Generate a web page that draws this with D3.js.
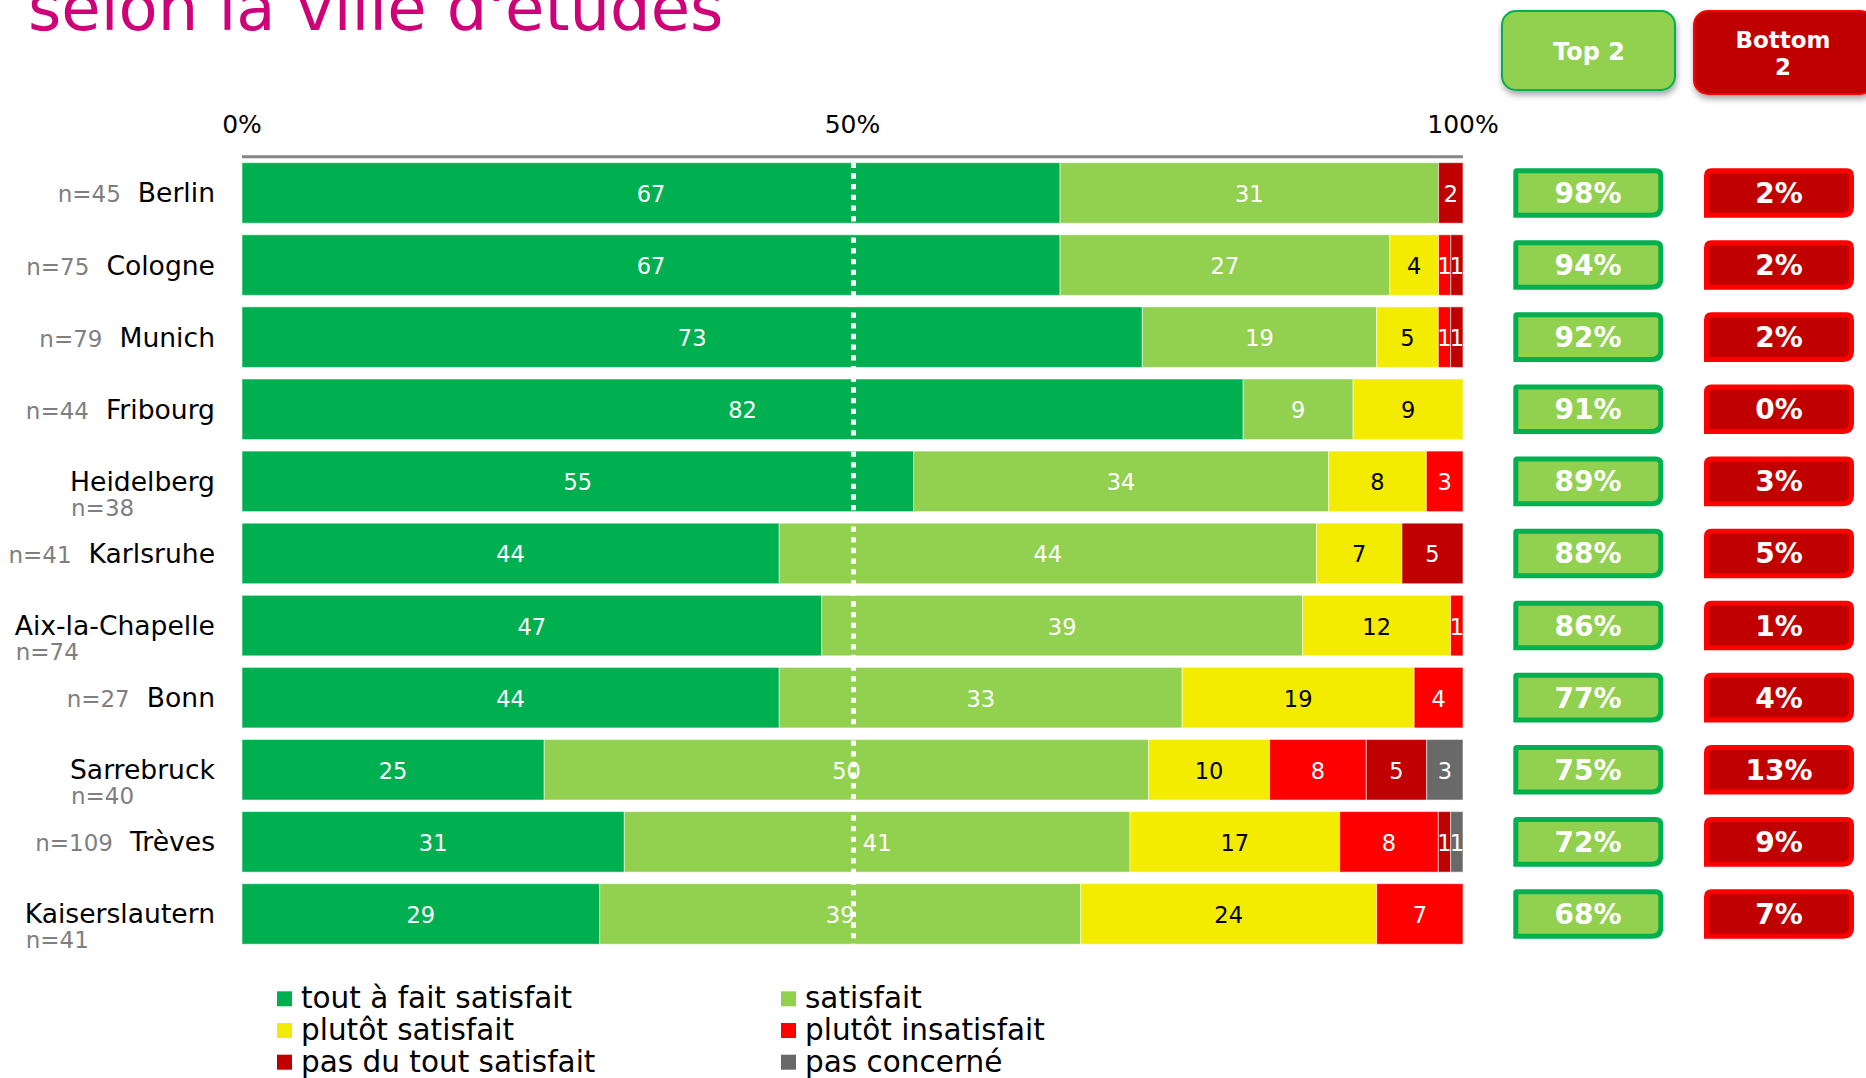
<!DOCTYPE html>
<html>
<head>
<meta charset="utf-8">
<script src="https://cdn.jsdelivr.net/npm/d3@7"></script>
<style>
body { margin: 0; background: #fff; }
svg { display: block; font-family: "DejaVu Sans", Verdana, sans-serif; }
</style>
</head>
<body>
<svg id="chart"></svg>
<script>
var width = 1866, height = 1078;

var cities = ["Berlin", "Cologne", "Munich", "Fribourg", "Heidelberg", "Karlsruhe",
  "Aix-la-Chapelle", "Bonn", "Sarrebruck", "Trèves", "Kaiserslautern"];
var sampleSizes = ["n=45", "n=75", "n=79", "n=44", "n=38", "n=41", "n=74", "n=27", "n=40", "n=109", "n=41"];
var nOnSecondLine = [false, false, false, false, true, false, true, false, true, false, true];

var toutAFait   = [67, 67, 73, 82, 55, 44, 47, 44, 25, 31, 29];
var satisfait   = [31, 27, 19,  9, 34, 44, 39, 33, 50, 41, 39];
var plutotSat   = [ 0,  4,  5,  9,  8,  7, 12, 19, 10, 17, 24];
var plutotInsat = [ 0,  1,  1,  0,  3,  0,  1,  4,  8,  8,  7];
var pasDuTout   = [ 2,  1,  1,  0,  0,  5,  0,  0,  5,  1,  0];
var pasConcerne = [ 0,  0,  0,  0,  0,  0,  0,  0,  3,  1,  0];

var top2    = [98, 94, 92, 91, 89, 88, 86, 77, 75, 72, 68];
var bottom2 = [ 2,  2,  2,  0,  3,  5,  1,  4, 13,  9,  7];

var seriesNames = ["tout à fait satisfait", "satisfait", "plutôt satisfait",
  "plutôt insatisfait", "pas du tout satisfait", "pas concerné"];
var seriesColors = ["#00b050", "#92d050", "#f4ec00", "#ff0000", "#c00000", "#696969"];
var labelColors = ["#fff", "#fff", "#000", "#fff", "#fff", "#fff"];
var tickValues = [0, 0.5, 1];

var svg = d3.select("#chart").attr("width", width).attr("height", height);

// drop shadow for the header boxes
svg.append("defs").append("filter")
    .attr("id", "shadow")
    .attr("x", "-20%").attr("y", "-20%").attr("width", "140%").attr("height", "160%")
  .append("feDropShadow")
    .attr("dx", 1).attr("dy", 4).attr("stdDeviation", 3)
    .attr("flood-color", "#000").attr("flood-opacity", 0.35);

// title (cut by the top edge as in the source slide)
svg.append("text")
    .attr("x", 28).attr("y", 30)
    .attr("font-size", 64)
    .attr("fill", "#cf0078")
    .text("selon la ville d'études");

var x = d3.scaleLinear().domain([0, 1]).range([242, 1463]);

var y = d3.scaleBand()
    .domain(cities)
    .range([156.9, 950])
    .paddingInner(0.16)
    .paddingOuter(0.08);

// table rows for the stack
var rows = cities.map(function (c, i) {
  return {
    city: c,
    s0: toutAFait[i], s1: satisfait[i], s2: plutotSat[i],
    s3: plutotInsat[i], s4: pasDuTout[i], s5: pasConcerne[i]
  };
});
var keys = ["s0", "s1", "s2", "s3", "s4", "s5"];
var stacked = d3.stack().keys(keys).offset(d3.stackOffsetExpand)(rows);

// top axis line and tick labels
svg.append("line")
    .attr("x1", x(0)).attr("x2", x(1))
    .attr("y1", 156.7).attr("y2", 156.7)
    .attr("stroke", "#868686")
    .attr("stroke-width", 3);

svg.selectAll(".tick-label")
    .data(tickValues)
  .enter().append("text")
    .attr("class", "tick-label")
    .attr("x", function (d) { return x(d); })
    .attr("y", 133)
    .attr("text-anchor", "middle")
    .attr("font-size", 25)
    .attr("fill", "#000")
    .text(d3.format(".0%"));

// bars
var layers = svg.selectAll(".layer")
    .data(stacked)
  .enter().append("g")
    .attr("class", "layer")
    .attr("fill", function (d, i) { return seriesColors[i]; });

layers.selectAll("rect")
    .data(function (d) { return d; })
  .enter().append("rect")
    .attr("x", function (d) { return x(d[0]); })
    .attr("y", function (d) { return y(d.data.city); })
    .attr("width", function (d) { return Math.max(0, x(d[1]) - x(d[0])); })
    .attr("height", y.bandwidth())
    .attr("stroke", "rgba(255,255,255,0.55)")
    .attr("stroke-width", 1);

layers.selectAll("text")
    .data(function (d, i) {
      return d.map(function (p) { return { p: p, k: i }; })
        .filter(function (o) { return o.p.data[keys[o.k]] > 0; });
    })
  .enter().append("text")
    .attr("x", function (o) { return (x(o.p[0]) + x(o.p[1])) / 2; })
    .attr("y", function (o) { return y(o.p.data.city) + y.bandwidth() / 2 + 9; })
    .attr("text-anchor", "middle")
    .attr("font-size", 22.5)
    .attr("fill", function (o) { return labelColors[o.k]; })
    .text(function (o) { return o.p.data[keys[o.k]]; });

// dotted 50% line over the bars
svg.append("line")
    .attr("x1", x(0.5) + 1).attr("x2", x(0.5) + 1)
    .attr("y1", y(cities[0]))
    .attr("y2", y(cities[cities.length - 1]) + y.bandwidth())
    .attr("stroke", "#fff")
    .attr("stroke-width", 5)
    .attr("stroke-dasharray", "5.3,5.4");

// category labels with sample sizes
var catLabels = svg.selectAll(".cat")
    .data(cities)
  .enter().append("g")
    .attr("class", "cat");

catLabels.each(function (c, i) {
  var g = d3.select(this);
  var cy = y(c) + y.bandwidth() / 2;
  var name = g.append("text")
      .attr("x", 215)
      .attr("y", cy + 9.5)
      .attr("text-anchor", "end")
      .attr("font-size", 26.6)
      .attr("fill", "#000")
      .text(c);
  var w = name.node().getComputedTextLength();
  var n = g.append("text")
      .attr("font-size", 23)
      .attr("fill", "#7f7f7f")
      .text(sampleSizes[i]);
  if (nOnSecondLine[i]) {
    n.attr("x", 215 - w + 1).attr("y", cy + 34.5).attr("text-anchor", "start");
  } else {
    n.attr("x", 215 - w - 17).attr("y", cy + 9.5).attr("text-anchor", "end");
  }
});

// badge shape: small radius on the left, larger on the right
function badgePath(x0, y0, w, h, rtl, rtr, rbr, rbl) {
  var p = d3.path();
  p.moveTo(x0 + rtl, y0);
  p.lineTo(x0 + w - rtr, y0);
  p.quadraticCurveTo(x0 + w, y0, x0 + w, y0 + rtr);
  p.lineTo(x0 + w, y0 + h - rbr);
  p.quadraticCurveTo(x0 + w, y0 + h, x0 + w - rbr, y0 + h);
  p.lineTo(x0 + rbl, y0 + h);
  p.quadraticCurveTo(x0, y0 + h, x0, y0 + h - rbl);
  p.lineTo(x0, y0 + rtl);
  p.quadraticCurveTo(x0, y0, x0 + rtl, y0);
  p.closePath();
  return p.toString();
}

// header boxes
var head = svg.append("g");
head.append("rect")
    .attr("x", 1502).attr("y", 11).attr("width", 173).attr("height", 79)
    .attr("rx", 14)
    .attr("fill", "#92d050").attr("stroke", "#00b050").attr("stroke-width", 2)
    .attr("filter", "url(#shadow)");
head.append("text")
    .attr("x", 1589).attr("y", 60)
    .attr("text-anchor", "middle")
    .attr("font-size", 24).attr("font-weight", "bold").attr("fill", "#fff")
    .text("Top 2");
head.append("rect")
    .attr("x", 1694).attr("y", 11).attr("width", 180).attr("height", 83)
    .attr("rx", 14)
    .attr("fill", "#c00000").attr("stroke", "#ff0000").attr("stroke-width", 2)
    .attr("filter", "url(#shadow)");
head.append("text")
    .attr("x", 1783).attr("y", 48)
    .attr("text-anchor", "middle")
    .attr("font-size", 23).attr("font-weight", "bold").attr("fill", "#fff")
    .text("Bottom");
head.append("text")
    .attr("x", 1783).attr("y", 75)
    .attr("text-anchor", "middle")
    .attr("font-size", 23).attr("font-weight", "bold").attr("fill", "#fff")
    .text("2");

// Top 2 / Bottom 2 badges per row
var badges = svg.selectAll(".badge")
    .data(cities)
  .enter().append("g")
    .attr("class", "badge")
    .attr("transform", function (c) { return "translate(0," + (y(c) + y.bandwidth() / 2) + ")"; });

badges.append("path")
    .attr("d", badgePath(1515.8, -22.3, 145, 44.6, 1, 5, 9, 0))
    .attr("fill", "#92d050").attr("stroke", "#00b050").attr("stroke-width", 5);
badges.append("text")
    .attr("x", 1588).attr("y", 10)
    .attr("text-anchor", "middle")
    .attr("font-size", 28).attr("font-weight", "bold").attr("fill", "#fff")
    .text(function (c, i) { return top2[i] + "%"; });

badges.append("path")
    .attr("d", badgePath(1706.5, -22.3, 145, 44.6, 5, 5, 9, 0))
    .attr("fill", "#c00000").attr("stroke", "#ff0000").attr("stroke-width", 5);
badges.append("text")
    .attr("x", 1779).attr("y", 10)
    .attr("text-anchor", "middle")
    .attr("font-size", 28).attr("font-weight", "bold").attr("fill", "#fff")
    .text(function (c, i) { return bottom2[i] + "%"; });

// legend, two columns
var legend = svg.selectAll(".legend")
    .data(seriesNames)
  .enter().append("g")
    .attr("class", "legend")
    .attr("transform", function (d, i) {
      var col = i % 2, row = Math.floor(i / 2);
      return "translate(" + (col === 0 ? 277 : 781) + "," + (1008.3 + row * 31.7) + ")";
    });

legend.append("rect")
    .attr("x", 0).attr("y", -17)
    .attr("width", 15).attr("height", 15)
    .attr("fill", function (d, i) { return seriesColors[i]; });

legend.append("text")
    .attr("x", 24).attr("y", 0)
    .attr("font-size", 29.5)
    .attr("fill", "#000")
    .text(function (d) { return d; });
</script>
</body>
</html>
